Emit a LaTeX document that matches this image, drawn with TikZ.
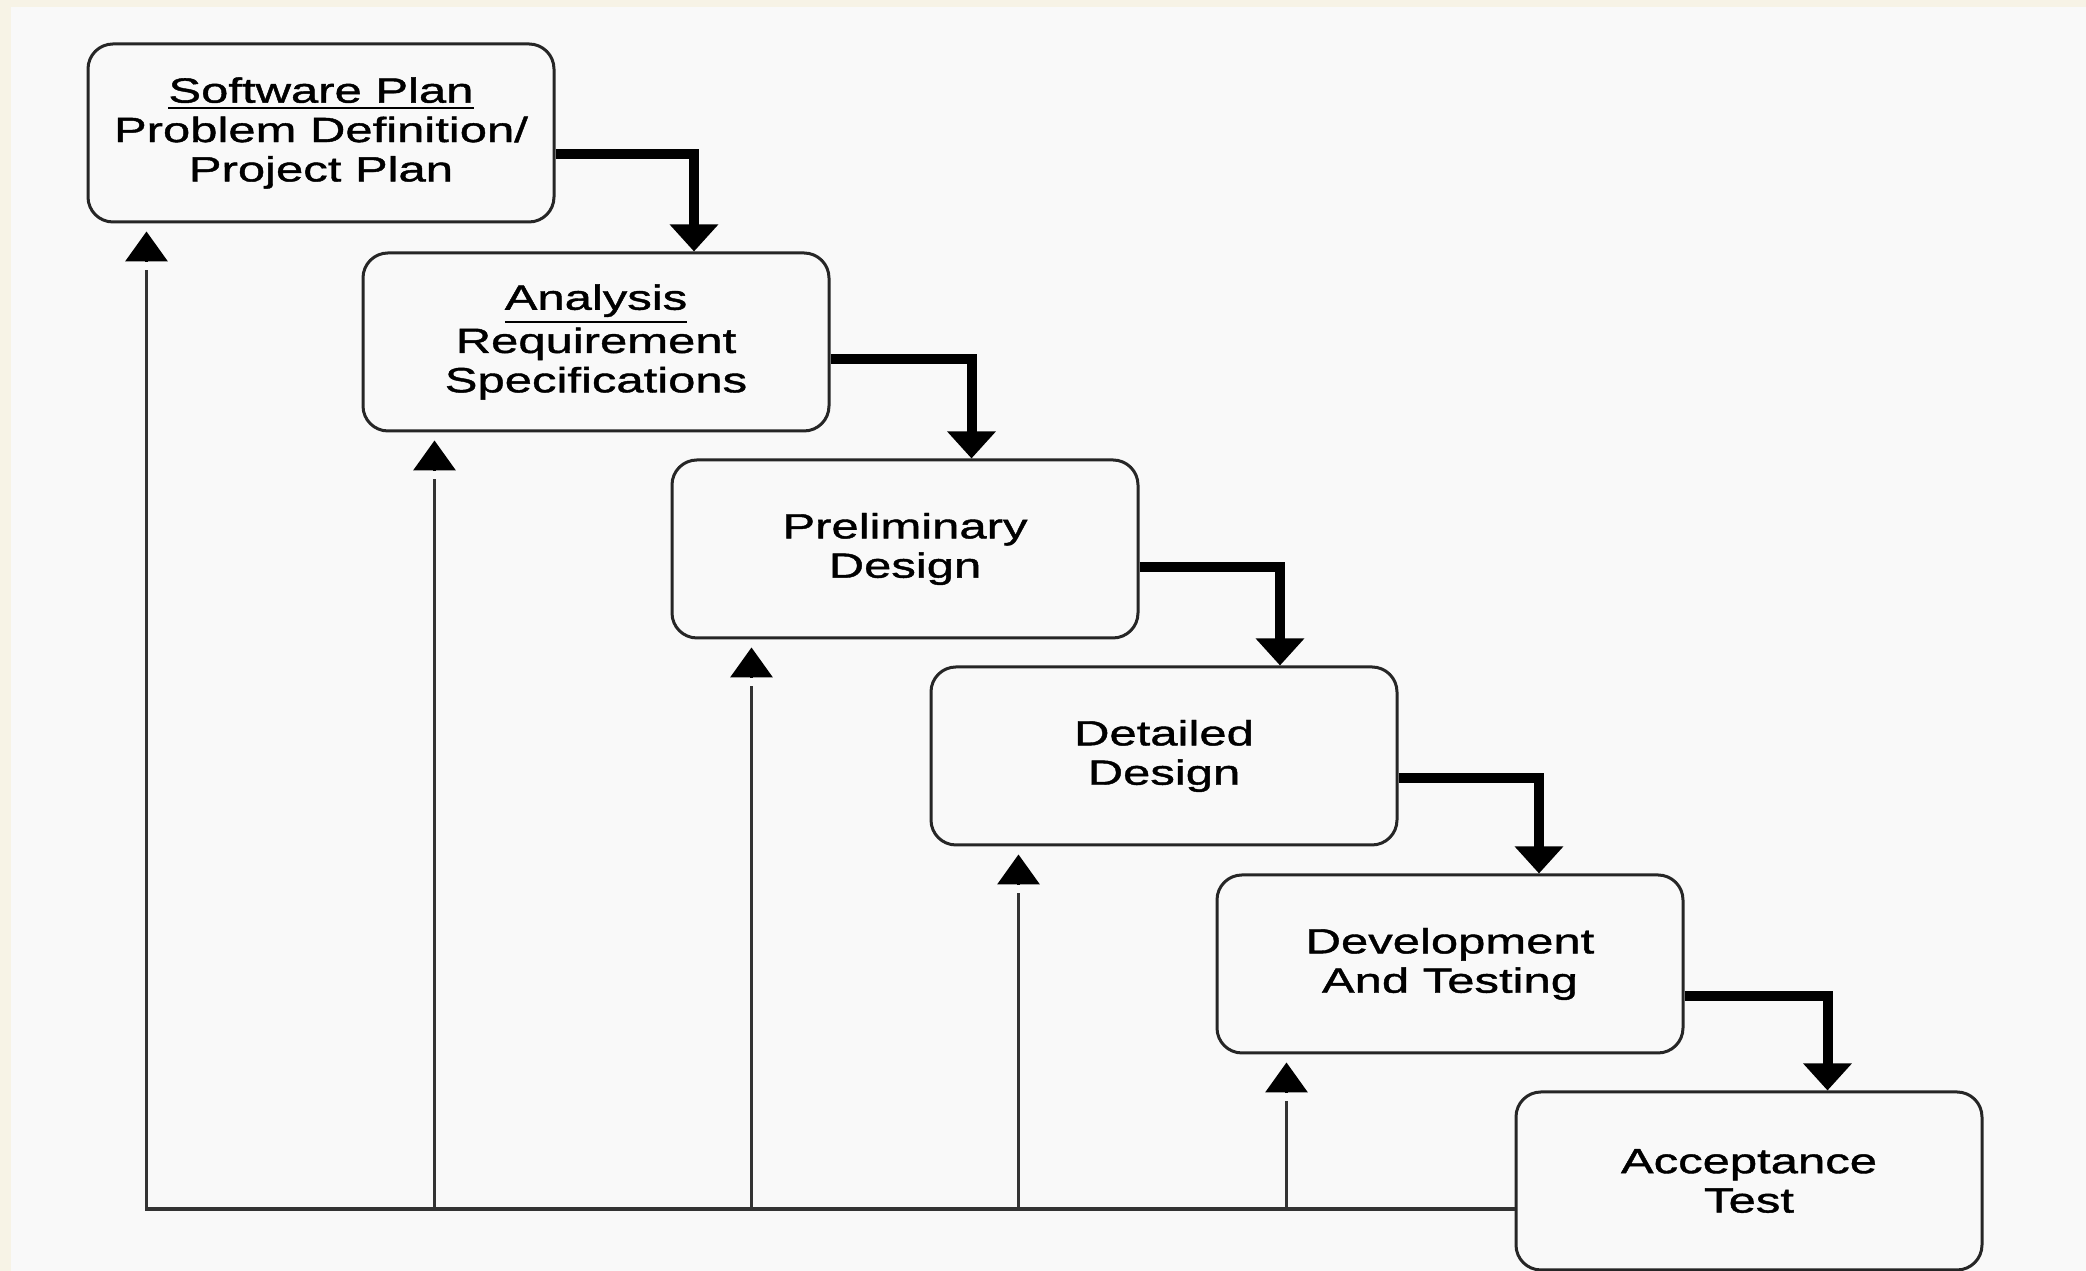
\documentclass[tikz,border=0pt]{standalone}
\usepackage{fontspec}
\newfontfamily\phasefont{Liberation Sans}[FakeStretch=1.4,FakeBold=1.2]
\usetikzlibrary{arrows.meta}

\definecolor{paper}{HTML}{F9F9F9}
\definecolor{cream}{HTML}{F7F3E6}

\tikzset{
  phase/.style={draw=black!85, line width=0.03cm, rounded corners=0.25cm, fill=paper,
    minimum width=4.66cm, minimum height=1.78cm, inner sep=0pt, align=center,
    font=\phasefont\fontsize{9.96pt}{11.2pt}\selectfont},
  flow/.style={line width=0.1cm, -{Triangle[width=0.47cm,length=0.27cm]}},
  fb/.style={line width=0.035cm, draw=black!80},
  fbtip/.style={line width=0.035cm, draw=black, -{Triangle[width=0.42cm,length=0.30cm]}}
}

\begin{document}
\begin{tikzpicture}[x=1cm,y=1cm]

% page and background
\fill[cream] (0,0) rectangle (20.86,12.71);
\fill[paper] (0.11,0) rectangle (20.86,12.64);
\useasboundingbox (0,0) rectangle (20.86,12.71);

% the phases
\node[phase] (plan) at (3.21,11.38) {\underline{Software Plan}\\Problem Definition/\\Project Plan};
\node[phase] (analysis) at (5.96,9.29) {\underline{Analysis}\\Requirement\\Specifications};
\node[phase] (prelim) at (9.05,7.22) {Preliminary\\Design};
\node[phase] (detail) at (11.64,5.15) {Detailed\\Design};
\node[phase] (devel) at (14.50,3.07) {Development\\And Testing};
\node[phase] (accept) at (17.49,0.90) {Acceptance\\Test};

% forward steps
\draw[flow] ([yshift=-0.21cm]plan.east) -| ([xshift=0.98cm]analysis.north);
\draw[flow] ([yshift=-0.17cm]analysis.east) -| ([xshift=0.665cm]prelim.north);
\draw[flow] ([yshift=-0.18cm]prelim.east) -| ([xshift=1.16cm]detail.north);
\draw[flow] ([yshift=-0.22cm]detail.east) -| ([xshift=0.89cm]devel.north);
\draw[flow] ([yshift=-0.32cm]devel.east) -| ([xshift=0.785cm]accept.north);

% feedback lines
\coordinate (base) at (1.48,0.62);
\coordinate (f1) at ([xshift=0.60cm]plan.south west);
\coordinate (f2) at ([xshift=0.73cm]analysis.south west);
\coordinate (f3) at ([xshift=0.81cm]prelim.south west);
\coordinate (f4) at ([xshift=0.89cm]detail.south west);
\coordinate (f5) at ([xshift=0.71cm]devel.south west);

\draw[fb] (accept.west |- base) -- (f1 |- base) -- ([yshift=-0.47cm]f1);
\draw[fb] (f2 |- base) -- ([yshift=-0.47cm]f2);
\draw[fb] (f3 |- base) -- ([yshift=-0.47cm]f3);
\draw[fb] (f4 |- base) -- ([yshift=-0.47cm]f4);
\draw[fb] (f5 |- base) -- ([yshift=-0.47cm]f5);

\draw[fbtip] ([yshift=-0.38cm]f1) -- ([yshift=-0.08cm]f1);
\draw[fbtip] ([yshift=-0.38cm]f2) -- ([yshift=-0.08cm]f2);
\draw[fbtip] ([yshift=-0.38cm]f3) -- ([yshift=-0.08cm]f3);
\draw[fbtip] ([yshift=-0.38cm]f4) -- ([yshift=-0.08cm]f4);
\draw[fbtip] ([yshift=-0.38cm]f5) -- ([yshift=-0.08cm]f5);

\end{tikzpicture}
\end{document}
